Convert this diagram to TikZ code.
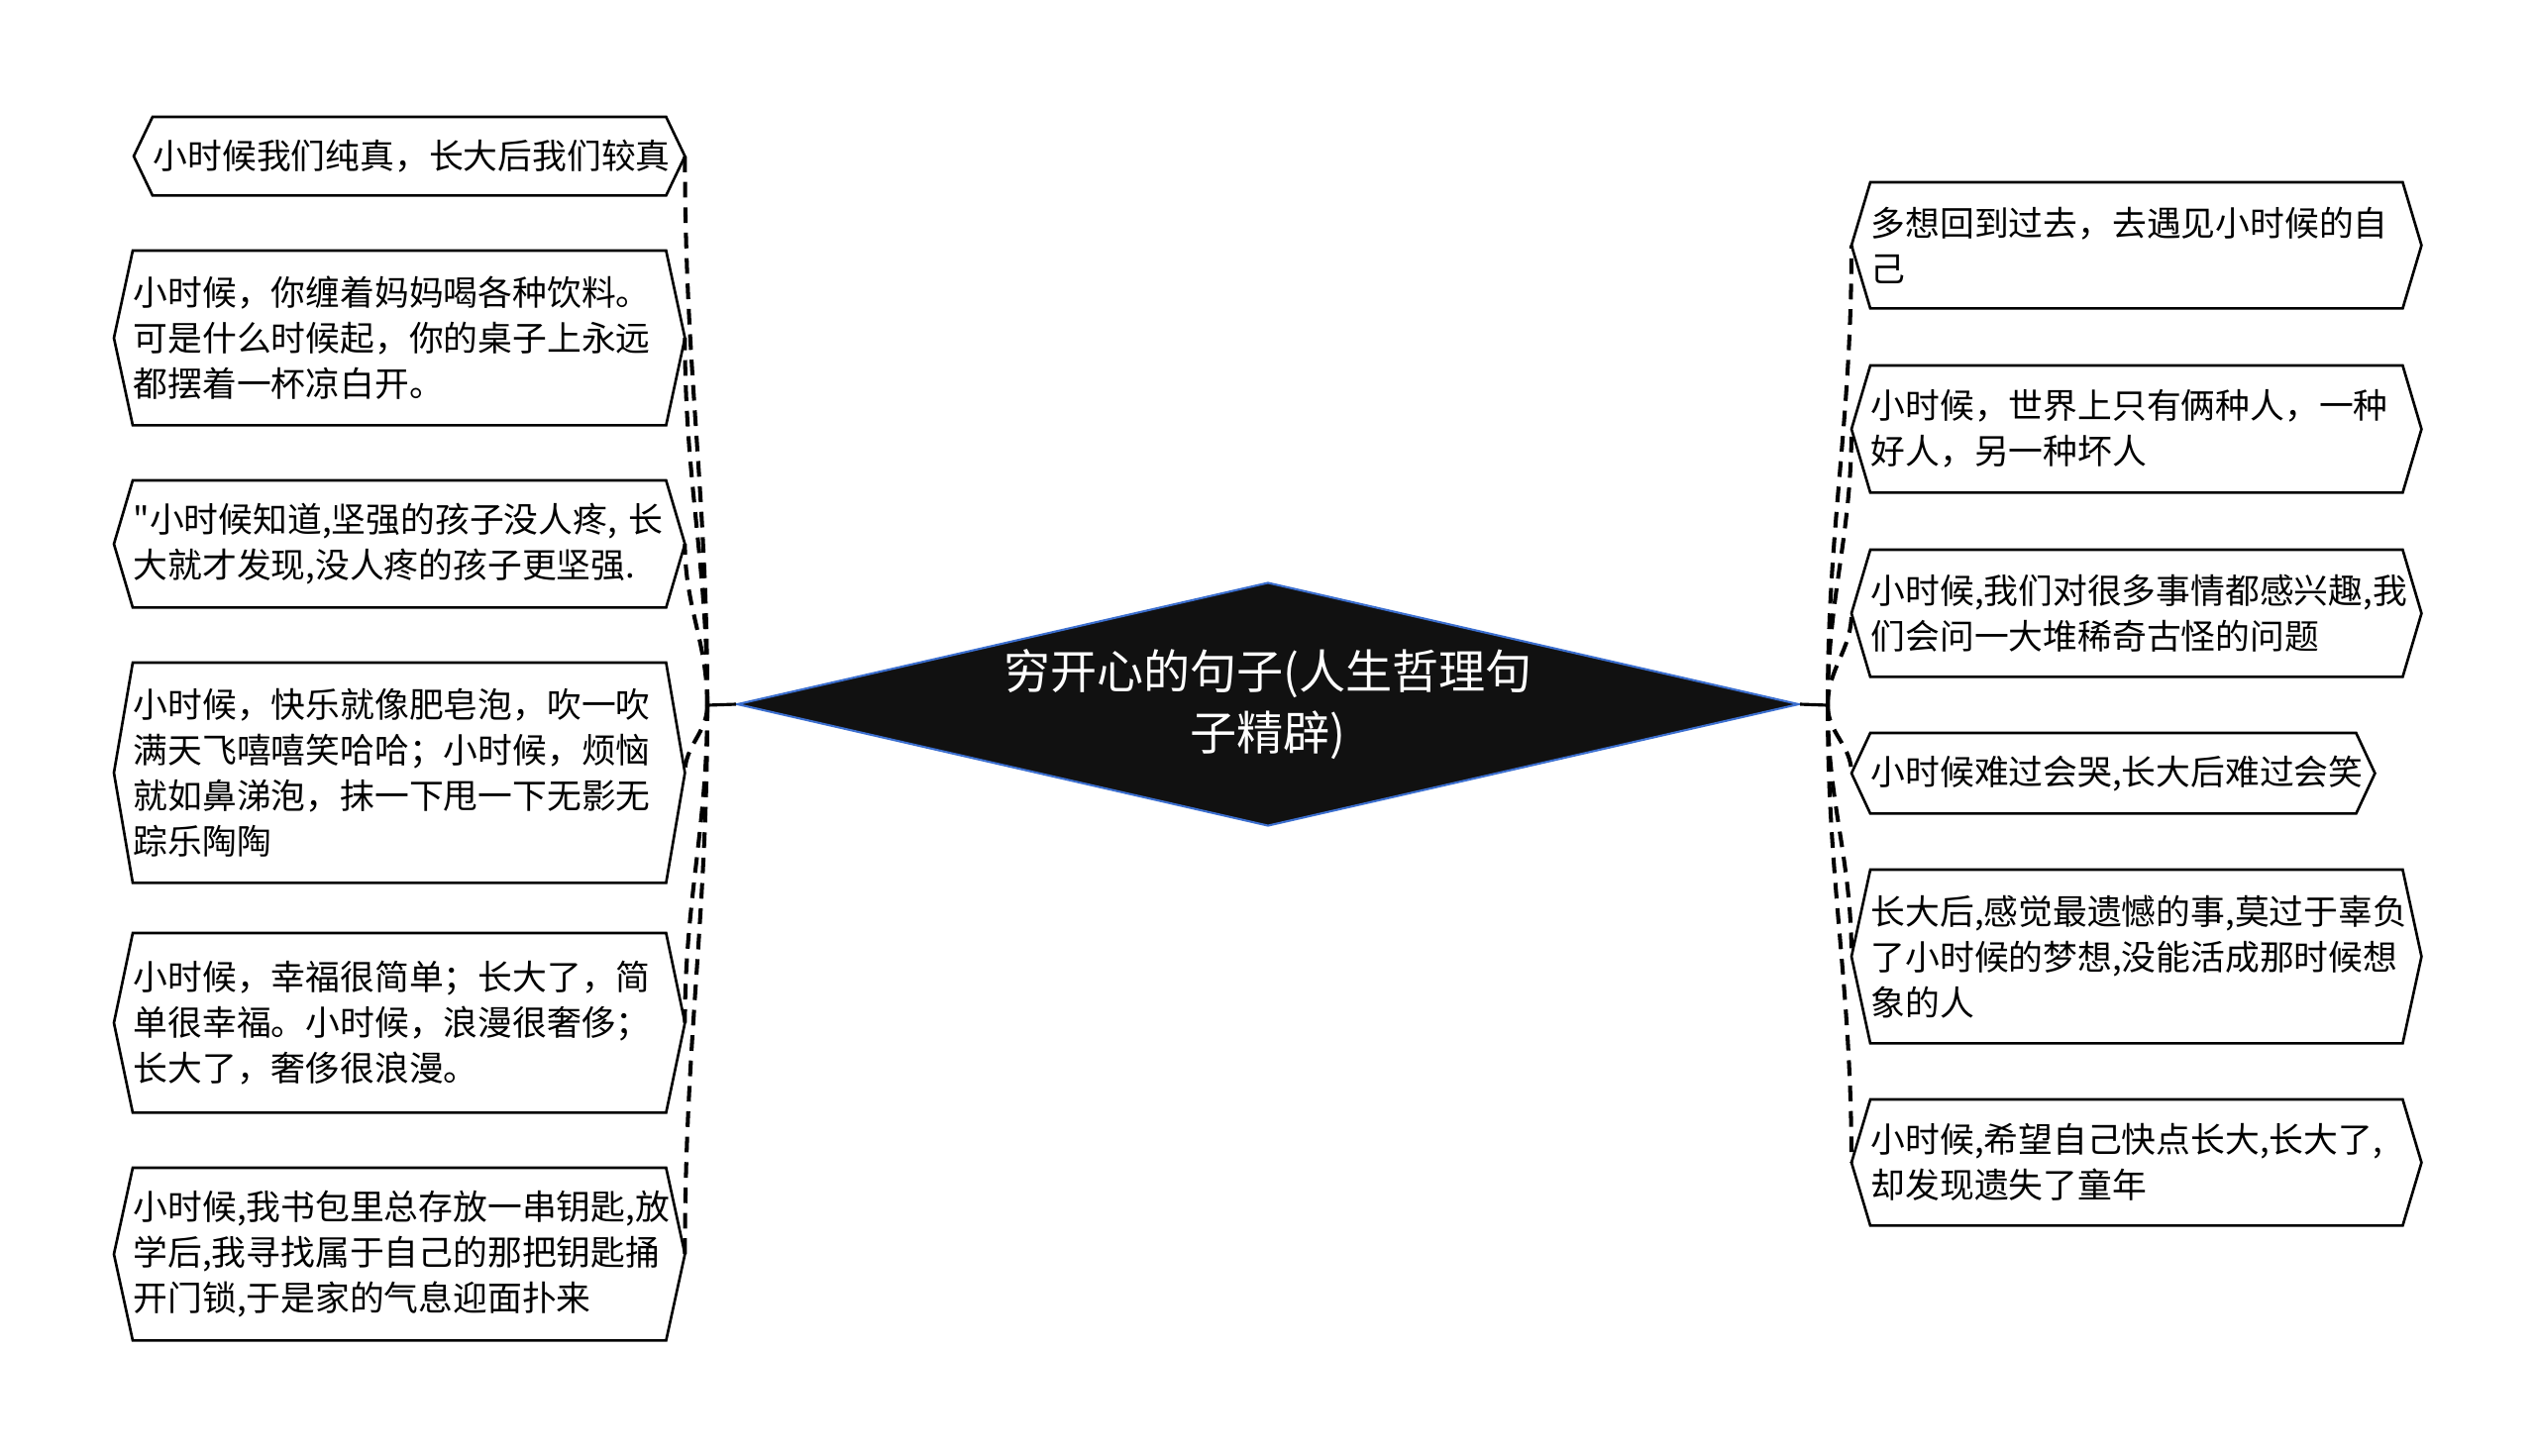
\documentclass[tikz,border=0pt]{standalone}
\usepackage{fontspec}
\newfontfamily\cjk{Noto Sans CJK SC}
\usepackage{xcolor}
\usetikzlibrary{shapes.geometric,calc}

\definecolor{hubfill}{HTML}{111111}
\definecolor{hubedge}{HTML}{3C6FCF}

\tikzset{
  leaf/.style={inner sep=0pt, anchor=north west, align=left, text width=5.37cm,
    font=\cjk\fontsize{9.9}{13.1}\selectfont},
  frame/.style={draw=black, line width=0.75pt},
  link/.style={draw=black, line width=1.15pt, dash pattern=on 4.5pt off 2.8pt},
  hub/.style={diamond, fill=hubfill, draw=hubedge, line width=0.6pt, inner sep=0pt,
    minimum width=10.72cm, minimum height=2.46cm, aspect=4.36, text=white,
    align=center, font=\cjk\fontsize{13.4}{17.6}\selectfont}
}

% pointed frame round a leaf, with its two tips as coordinates
\newcommand{\hexframe}[1]{%
  \coordinate (#1-w) at ([xshift=-0.19cm]#1.west);
  \coordinate (#1-e) at ([xshift=0.19cm]#1.east);
  \draw[frame] (#1-w) -- (#1.north west) -- (#1.north east) -- (#1-e)
    -- (#1.south east) -- (#1.south west) -- cycle;}

\begin{document}
\begin{tikzpicture}[x=1cm,y=-1cm]
    \useasboundingbox (0,0) rectangle (25.60,14.69);

    % Centre
    \node[hub] (hub) at (12.80,7.11) {穷开心的句子(人生哲理句\\子精辟)};
    \coordinate (jl) at (7.14,7.12);
    \coordinate (jr) at (18.45,7.12);

    % Left leaves
    \node[leaf, text width=5.17cm, minimum height=0.78cm] (l1) at (1.54,1.18) {小时候我们纯真，长大后我们较真};
    \node[leaf, minimum height=1.75cm] (l2) at (1.34,2.53) {小时候，你缠着妈妈喝各种饮料。\\可是什么时候起，你的桌子上永远\\都摆着一杯凉白开。};
    \node[leaf, minimum height=1.27cm] (l3) at (1.34,4.85) {"小时候知道,坚强的孩子没人疼, 长\\大就才发现,没人疼的孩子更坚强.};
    \node[leaf, minimum height=2.21cm] (l4) at (1.34,6.69) {小时候，快乐就像肥皂泡，吹一吹\\满天飞嘻嘻笑哈哈；小时候，烦恼\\就如鼻涕泡，抹一下甩一下无影无\\踪乐陶陶};
    \node[leaf, minimum height=1.80cm] (l5) at (1.34,9.42) {小时候，幸福很简单；长大了，简\\单很幸福。小时候，浪漫很奢侈；\\长大了，奢侈很浪漫。};
    \node[leaf, minimum height=1.73cm] (l6) at (1.34,11.79) {小时候,我书包里总存放一串钥匙,放\\学后,我寻找属于自己的那把钥匙捅\\开门锁,于是家的气息迎面扑来};

    % Right leaves
    \node[leaf, text width=5.36cm, minimum height=1.26cm] (r1) at (18.88,1.84) {多想回到过去，去遇见小时候的自\\己};
    \node[leaf, text width=5.36cm, minimum height=1.27cm] (r2) at (18.88,3.69) {小时候，世界上只有俩种人，一种\\好人，另一种坏人};
    \node[leaf, text width=5.36cm, minimum height=1.27cm] (r3) at (18.88,5.55) {小时候,我们对很多事情都感兴趣,我\\们会问一大堆稀奇古怪的问题};
    \node[leaf, text width=4.89cm, minimum height=0.80cm] (r4) at (18.88,7.40) {小时候难过会哭,长大后难过会笑};
    \node[leaf, text width=5.36cm, minimum height=1.74cm] (r5) at (18.88,8.78) {长大后,感觉最遗憾的事,莫过于辜负\\了小时候的梦想,没能活成那时候想\\象的人};
    \node[leaf, text width=5.36cm, minimum height=1.26cm] (r6) at (18.88,11.10) {小时候,希望自己快点长大,长大了,\\却发现遗失了童年};

    % Frames
    \foreach \n in {l1,l2,l3,l4,l5,l6,r1,r2,r3,r4,r5,r6}
        \hexframe{\n};

    % Stems
    \draw[line width=0.9pt] (hub.west) -- (jl);
    \draw[line width=0.9pt] (hub.east) -- (jr);

    % Branches
    \foreach \n in {l1,l2,l3}
        \draw[link] (jl) to[out=90,in=-90] (\n-e);
    \foreach \n in {l4,l5,l6}
        \draw[link] (jl) to[out=-90,in=90] (\n-e);
    \foreach \n in {r1,r2,r3}
        \draw[link] (jr) to[out=90,in=-90] (\n-w);
    \foreach \n in {r4,r5,r6}
        \draw[link] (jr) to[out=-90,in=90] (\n-w);
\end{tikzpicture}
\end{document}
